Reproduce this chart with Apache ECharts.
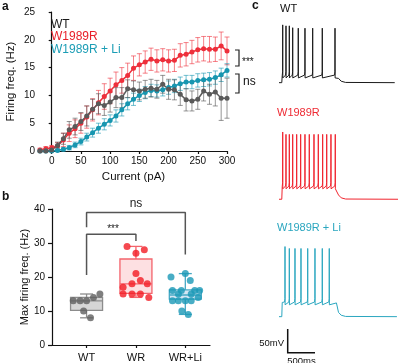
<!DOCTYPE html>
<html><head><meta charset="utf-8">
<script src="https://cdn.jsdelivr.net/npm/echarts@6/dist/echarts.min.js"></script>
<style>html,body{margin:0;padding:0;background:#fff}#c{width:400px;height:363px}</style>
</head><body><div id="c"></div><script>
// ---------- Panel a data ----------
const currents = [-20,-10,0,10,20,30,40,50,60,70,80,90,100,110,120,130,140,150,160,170,180,190,200,210,220,230,240,250,260,270,280,290,300];
const wtMean = [0,0,0.2,1.0,2.2,3.8,4.4,5.3,6.3,7.5,8.5,8.2,8.8,9.6,9.6,11.2,11.0,10.8,11.1,11.3,11.1,12.0,11.1,11.0,10.2,9.2,9.0,9.3,10.8,10.2,10.6,9.5,9.5];
const wtErr  = [0.2,0.2,0.3,0.6,1.0,1.5,1.5,1.6,1.8,1.8,1.8,1.8,1.8,1.8,1.8,1.6,1.6,1.6,1.6,1.6,1.6,1.6,1.8,1.8,2.0,2.0,1.8,1.8,1.8,1.8,2.5,4.0,3.6];
const wrMean = [0.2,0.4,0.6,0.9,2.0,3.2,4.0,5.0,6.1,7.4,8.7,9.8,10.8,11.9,12.7,13.6,14.9,15.5,16.0,16.5,16.2,16.4,16.2,16.3,17.2,17.4,17.8,18.2,18.4,18.3,18.3,18.9,18.0];
const wrErr  = [0.3,0.4,0.4,0.6,1.2,1.5,1.6,1.8,2.0,2.0,2.2,2.3,2.3,2.3,2.3,2.2,2.2,2.0,2.0,2.0,2.0,2.0,2.0,2.0,2.1,2.1,2.1,2.2,2.2,2.3,2.2,2.5,2.5];
const liMean = [0,0,0,0.1,0.3,0.6,1.1,1.7,2.5,3.3,4.1,4.8,5.5,6.3,7.4,8.5,9.3,10.0,10.5,10.9,10.8,11.0,11.4,11.7,12.1,12.4,12.4,12.7,12.8,12.9,13.2,13.7,14.5];
const liErr  = [0.1,0.1,0.1,0.2,0.3,0.4,0.5,0.6,0.7,0.8,0.9,1.0,1.0,1.1,1.1,1.1,1.1,1.1,1.1,1.1,1.1,1.1,1.2,1.2,1.2,1.2,1.2,1.2,1.2,1.2,1.2,1.2,1.2];
const aXTicks = [0,50,100,150,200,250,300];

// ---------- Panel b data ----------
const groups = ['WT','WR','WR+Li'];
const groupPos = [1,2,3];
// [min, Q1, median, Q3, max]
const boxStats = [[8,10.2,13,14,15],[14,15.2,18,25.3,29],[9,13.5,14.7,16.2,21]];
const wtPts   = [13,13,13,14,15,10,8];
const wtJit   = [-0.27,-0.13,0,0.14,0.27,-0.06,0.08];
const wrPts   = [29,28,27,21,19,18,18,17,15,15,15,14];
const wrJit   = [-0.18,0.17,0,0,0.09,-0.08,0.23,-0.26,-0.26,-0.08,0.09,0.26];
const liPts   = [21,20,19,16,16,16,16,15,15,14,13,13,13,13,10,9];
const liJit   = [0,-0.29,0.1,-0.26,-0.08,0.19,0.29,-0.14,0.12,0.26,-0.26,-0.14,0,0.12,-0.07,0.06];
const sigBracket1 = [[1,20.6],[1,32.6],[2,32.6],[2,30.6]];
const sigBracket2 = [[1,34.6],[1,39],[3,39],[3,26.6]];

// ---------- Panel c data (ms, mV) ----------
const stepOn = 55, stepOff = 1060;
const wtSpikes = [68,128,189,251,353,476,617,793,1026];
const wtPeaks  = [52,50,50,46,45,45,45,45,45];
const wrSpikes = [68,128,189,251,324,397,476,555,641,720,800,874,952,1031];
const wrPeaks  = [72,67,67,67,67,67,67,67,67,67,67,67,67,67];
const liSpikes = [110,189,293,403,526,659,793,921];
const liPeaks  = [78,74,74,74,74,74,74,74];
const restLevels = [-70,-70,-70];
const plateauLevels = [-57,-45,-42];
const traceEnds = [2120,2180,2160];

const FONT = 'Liberation Sans, Arial, sans-serif';
const cGray = '#5a5a5a', cRed = '#ee2f3b', cCyan = '#1796b0';

function buildTrace(spikes, peaks, rest, plateau, end){
  const pts = [[0,rest],[stepOn-4,rest],[stepOn+4,plateau+2]];
  spikes.forEach((t,i)=>{
    pts.push([t-8,plateau+3],[t-2,plateau+10],[t,peaks[i]],[t+2,plateau-3],[t+7,plateau-5],[t+22,plateau-2]);
  });
  pts.push([stepOff-8,plateau+1],[stepOff,plateau],[stepOff+30,rest+9],[stepOff+80,rest+3],[stepOff+160,rest+0.5],[end,rest]);
  pts.sort((a,b)=>a[0]-b[0]);
  return pts;
}

function errSeries(mean, err, color){
  return {
    type:'custom', xAxisIndex:0, yAxisIndex:0, silent:true, z:1,
    data: currents.map((c,i)=>[c, mean[i]-err[i], mean[i]+err[i]]),
    encode:{x:0, y:[1,2]},
    renderItem(params, api){
      const x = api.value(0);
      const lo = api.coord([x, api.value(1)]);
      const hi = api.coord([x, api.value(2)]);
      const w = 2.5;
      const st = {stroke:color, lineWidth:1};
      return {type:'group', children:[
        {type:'line', shape:{x1:lo[0],y1:lo[1],x2:hi[0],y2:hi[1]}, style:st},
        {type:'line', shape:{x1:hi[0]-w,y1:hi[1],x2:hi[0]+w,y2:hi[1]}, style:st},
        {type:'line', shape:{x1:lo[0]-w,y1:lo[1],x2:lo[0]+w,y2:lo[1]}, style:st}
      ]};
    }
  };
}
function lineSeries(name, mean, color){
  return {type:'line', name, xAxisIndex:0, yAxisIndex:0, z:2,
    data: currents.map((c,i)=>[c, mean[i]]),
    symbol:'circle', symbolSize:5, showSymbol:true,
    lineStyle:{color, width:1.5}, itemStyle:{color}, emphasis:{disabled:true}};
}

const boxColors = [
  {fill:'#d6d6d6', stroke:'#8c8c8c'},
  {fill:'#fde0e2', stroke:'#f4646c'},
  {fill:'#d3e6f3', stroke:'#46a8c4'}
];

const chart = echarts.init(document.getElementById('c'), null, {renderer:'canvas'});
const axisLineStyle = {color:'#111', width:1.2};

const option = {
  animation:false,
  textStyle:{fontFamily:FONT},
  legend:{
    left:40, top:13, orient:'vertical', itemGap:0, itemWidth:0, itemHeight:0,
    selectedMode:false,
    textStyle:{fontSize:12, fontFamily:FONT, lineHeight:12.5},
    data:[
      {name:'WT', textStyle:{color:'#1a1a1a'}},
      {name:'W1989R', textStyle:{color:'#e8202a'}},
      {name:'W1989R + Li', textStyle:{color:'#1b9db5'}}
    ]
  },
  grid:[
    {left:40, top:12, width:187, height:139},
    {left:52, top:209, width:158, height:139.3},
    {left:279, top:11.6, width:119, height:75.8},
    {left:279, top:128.2, width:119, height:75.8},
    {left:279, top:245.6, width:119, height:75.8}
  ],
  xAxis:[
    {type:'value', gridIndex:0, min:-20, max:300,
      axisLine:{show:true, lineStyle:axisLineStyle}, splitLine:{show:false},
      axisTick:{show:true, length:3, customValues:aXTicks, lineStyle:axisLineStyle},
      axisLabel:{customValues:aXTicks, fontSize:10, color:'#111', margin:5, fontFamily:FONT},
      name:'Current (pA)', nameLocation:'middle', nameGap:20,
      nameTextStyle:{fontSize:11.5, color:'#111', fontFamily:FONT}},
    {type:'value', gridIndex:1, min:0.3, max:3.5,
      axisLine:{show:true, lineStyle:axisLineStyle}, splitLine:{show:false},
      axisTick:{show:true, length:3, customValues:groupPos, lineStyle:axisLineStyle},
      axisLabel:{customValues:groupPos, formatter:v=>groups[Math.round(v)-1]||'', fontSize:11, color:'#111', margin:7, fontFamily:FONT}},
    {type:'value', gridIndex:2, min:0, max:2180, show:false},
    {type:'value', gridIndex:3, min:0, max:2180, show:false},
    {type:'value', gridIndex:4, min:0, max:2180, show:false}
  ],
  yAxis:[
    {type:'value', gridIndex:0, min:0, max:25, interval:5,
      axisLine:{show:true, lineStyle:axisLineStyle}, splitLine:{show:false},
      axisTick:{show:true, length:3, lineStyle:axisLineStyle},
      axisLabel:{fontSize:10, color:'#111', margin:5, fontFamily:FONT},
      name:'Firing freq. (Hz)', nameLocation:'middle', nameGap:23,
      nameTextStyle:{fontSize:11.5, color:'#111', fontFamily:FONT}},
    {type:'value', gridIndex:1, min:0, max:40, interval:10,
      axisLine:{show:true, lineStyle:axisLineStyle}, splitLine:{show:false},
      axisTick:{show:true, length:4, lineStyle:axisLineStyle},
      axisLabel:{fontSize:10, color:'#111', margin:7, fontFamily:FONT},
      name:'Max firing freq. (Hz)', nameLocation:'middle', nameGap:19,
      nameTextStyle:{fontSize:11, color:'#111', fontFamily:FONT}},
    {type:'value', gridIndex:2, min:-80, max:80, show:false},
    {type:'value', gridIndex:3, min:-80, max:80, show:false},
    {type:'value', gridIndex:4, min:-80, max:80, show:false}
  ],
  series:[
    errSeries(wrMean, wrErr, 'rgba(238,47,59,0.6)'),
    lineSeries('W1989R', wrMean, cRed),
    errSeries(liMean, liErr, 'rgba(23,150,176,0.6)'),
    lineSeries('W1989R + Li', liMean, cCyan),
    errSeries(wtMean, wtErr, 'rgba(80,80,80,0.6)'),
    lineSeries('WT', wtMean, cGray),
    // panel b boxes
    {type:'custom', xAxisIndex:1, yAxisIndex:1, silent:true, z:1,
      data: boxStats.map((s,i)=>[groupPos[i], ...s]),
      encode:{x:0, y:[1,2,3,4,5]},
      renderItem(params, api){
        const i = params.dataIndex;
        const x = api.value(0);
        const p = k=>api.coord([x, api.value(k)]);
        const mn=p(1), q1=p(2), md=p(3), q3=p(4), mx=p(5);
        const hw = 16, cw = 6.5;
        const col = boxColors[i];
        const st = {stroke:col.stroke, lineWidth:1.3};
        return {type:'group', children:[
          {type:'rect', shape:{x:q3[0]-hw, y:q3[1], width:2*hw, height:q1[1]-q3[1]}, style:{fill:col.fill, stroke:col.stroke, lineWidth:1.3}},
          {type:'line', shape:{x1:md[0]-hw,y1:md[1],x2:md[0]+hw,y2:md[1]}, style:st},
          {type:'line', shape:{x1:q3[0],y1:q3[1],x2:mx[0],y2:mx[1]}, style:st},
          {type:'line', shape:{x1:q1[0],y1:q1[1],x2:mn[0],y2:mn[1]}, style:st},
          {type:'line', shape:{x1:mx[0]-cw,y1:mx[1],x2:mx[0]+cw,y2:mx[1]}, style:st},
          {type:'line', shape:{x1:mn[0]-cw,y1:mn[1],x2:mn[0]+cw,y2:mn[1]}, style:st}
        ]};
      }},
    {type:'scatter', xAxisIndex:1, yAxisIndex:1, z:3, symbolSize:7, itemStyle:{color:'#5f5f5f'},
      data: wtPts.map((v,i)=>[groupPos[0]+wtJit[i], v])},
    {type:'scatter', xAxisIndex:1, yAxisIndex:1, z:3, symbolSize:7, itemStyle:{color:'#f21c24'},
      data: wrPts.map((v,i)=>[groupPos[1]+wrJit[i], v])},
    {type:'scatter', xAxisIndex:1, yAxisIndex:1, z:3, symbolSize:7, itemStyle:{color:'#1a98b6'},
      data: liPts.map((v,i)=>[groupPos[2]+liJit[i], v])},
    {type:'line', xAxisIndex:1, yAxisIndex:1, data:sigBracket1, symbol:'none', clip:false, silent:true,
      lineStyle:{color:'#555', width:1.5}},
    {type:'line', xAxisIndex:1, yAxisIndex:1, data:sigBracket2, symbol:'none', clip:false, silent:true,
      lineStyle:{color:'#555', width:1.5}},
    // panel c traces
    {type:'line', xAxisIndex:2, yAxisIndex:2, symbol:'none', silent:true,
      data: buildTrace(wtSpikes, wtPeaks, restLevels[0], plateauLevels[0], traceEnds[0]),
      lineStyle:{color:'#1a1a1a', width:1}},
    {type:'line', xAxisIndex:3, yAxisIndex:3, symbol:'none', silent:true,
      data: buildTrace(wrSpikes, wrPeaks, restLevels[1], plateauLevels[1], traceEnds[1]),
      lineStyle:{color:'#f0232d', width:1}},
    {type:'line', xAxisIndex:4, yAxisIndex:4, symbol:'none', silent:true,
      data: buildTrace(liSpikes, liPeaks, restLevels[2], plateauLevels[2], traceEnds[2]),
      lineStyle:{color:'#2aa6bf', width:1}}
  ],
  graphic:[
    {type:'text', left:2, top:1, style:{text:'a', font:'bold 12px '+FONT, fill:'#111'}},
    {type:'text', left:2, top:191, style:{text:'b', font:'bold 12px '+FONT, fill:'#111'}},
    {type:'text', left:252, top:0, style:{text:'c', font:'bold 12px '+FONT, fill:'#111'}},
    // panel a significance
    {type:'polyline', shape:{points:[[235,50],[239,50],[239,66],[235,66]]}, style:{stroke:'#222', lineWidth:1.2, fill:null}},
    {type:'text', x:242, y:57, style:{text:'***', font:'10px '+FONT, fill:'#111'}},
    {type:'polyline', shape:{points:[[235,74],[239,74],[239,93],[235,93]]}, style:{stroke:'#222', lineWidth:1.2, fill:null}},
    {type:'text', x:243, y:76, style:{text:'ns', font:'12px '+FONT, fill:'#111'}},
    // panel b significance text
    {type:'text', x:113, y:229, style:{text:'***', font:'10px '+FONT, fill:'#222', align:'center', verticalAlign:'middle'}},
    {type:'text', x:136, y:204, style:{text:'ns', font:'12px '+FONT, fill:'#222', align:'center', verticalAlign:'middle'}},
    // panel c labels
    {type:'text', x:280, y:9, style:{text:'WT', font:'11px '+FONT, fill:'#111', verticalAlign:'middle'}},
    {type:'text', x:277, y:113, style:{text:'W1989R', font:'11px '+FONT, fill:'#ee2a33', verticalAlign:'middle'}},
    {type:'text', x:277, y:228, style:{text:'W1989R + Li', font:'11px '+FONT, fill:'#2aa6bf', verticalAlign:'middle'}},
    // scale bar
    {type:'polyline', shape:{points:[[287.7,329],[287.7,352.7],[315,352.7]]}, style:{stroke:'#111', lineWidth:1.5, fill:null}},
    {type:'text', x:284, y:343, style:{text:'50mV', font:'9.5px '+FONT, fill:'#111', align:'right', verticalAlign:'middle'}},
    {type:'text', x:301.5, y:356, style:{text:'500ms', font:'9.5px '+FONT, fill:'#111', align:'center', verticalAlign:'top'}}
  ]
};
chart.setOption(option);
</script></body></html>
